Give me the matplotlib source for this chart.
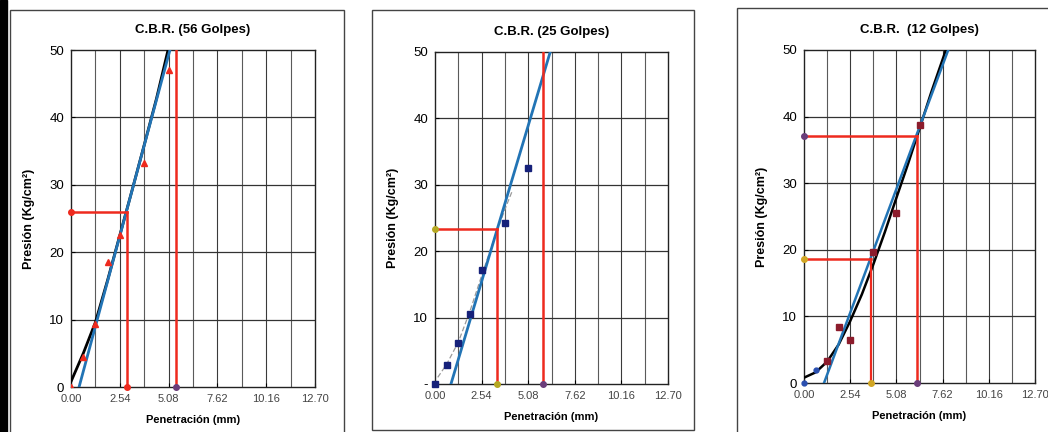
import numpy as np
import matplotlib.pyplot as plt
from matplotlib.patches import Rectangle

plt.rcParams['font.family'] = ['Liberation Sans', 'DejaVu Sans']

# penetration readings (mm)
pen = [0.00, 0.64, 1.27, 1.91, 2.54, 3.81, 5.08, 6.35]

# 56 golpes
p56 = [0.0, 4.4, 9.3, 18.5, 22.5, 33.3, 47.0]
fit56_x = [0.00, 0.64, 1.27, 1.91, 2.54, 3.18, 3.81, 4.45, 5.05]
fit56_y = [0.8, 5.0, 9.6, 15.9, 22.5, 29.2, 35.9, 42.8, 50.0]
tan56_x = [0.42, 5.15]
tan56_y = [0.0, 50.0]
cbr56_h = 26.0      # pressure read at corrected 2.54
cbr56_x1 = 2.90
cbr56_x2 = 5.45

# 25 golpes
p25 = [0.0, 2.8, 6.2, 10.5, 17.1, 24.2, 32.6]
fit25_x = [0.15, 0.64, 1.27, 1.91, 2.54, 3.18, 3.81, 4.20]
fit25_y = [1.0, 3.0, 6.3, 11.0, 16.3, 21.5, 26.3, 29.0]
tan25_x = [0.87, 6.28]
tan25_y = [0.0, 50.0]
cbr25_h = 23.3
cbr25_x1 = 3.38
cbr25_x2 = 5.91

# 12 golpes
p12 = [0.0, 1.9, 3.3, 8.4, 6.5, 19.6, 25.6, 38.7]
fit12_x = [0.00, 0.64, 1.27, 1.91, 2.54, 3.18, 3.81, 4.45, 5.08, 5.72, 6.35, 6.99, 7.80]
fit12_y = [0.8, 1.6, 3.2, 5.8, 9.3, 13.3, 17.8, 22.7, 27.8, 32.9, 38.2, 43.6, 50.0]
tan12_x = [1.10, 7.93]
tan12_y = [0.0, 50.0]
cbr12_h1 = 18.55
cbr12_x1 = 3.67
cbr12_h2 = 37.15
cbr12_x2 = 6.22

xticks = [0.00, 2.54, 5.08, 7.62, 10.16, 12.70]
xticklabels = ['0.00', '2.54', '5.08', '7.62', '10.16', '12.70']
yticks = [0, 10, 20, 30, 40, 50]

BLUE = '#2274b5'
RED = '#ee2a1e'
GRID = '#5a5a5a'

fig = plt.figure(figsize=(10.48, 4.32), dpi=100)
W, H = 1048, 432


def frame(x0, y0, x1, y1, lw=1.0, color='#444444'):
    fig.patches.append(Rectangle((x0 / W, 1 - y1 / H), (x1 - x0) / W, (y1 - y0) / H,
                                 transform=fig.transFigure, fill=False,
                                 edgecolor=color, linewidth=lw))


def make_ax(l, r, t, b, title, zero_dash=False):
    ax = fig.add_axes([l / W, 1 - b / H, (r - l) / W, (b - t) / H])
    ax.set_xlim(0, 12.70)
    ax.set_ylim(0, 50)
    for k in range(1, 10):
        ax.axvline(1.27 * k, color=GRID if k % 2 else '#3a3a3a', lw=0.8, zorder=0)
    for yv in [10, 20, 30, 40]:
        ax.axhline(yv, color='#333333', lw=0.9, zorder=0)
    ax.set_xticks(xticks)
    ax.set_xticklabels(xticklabels, fontsize=8, color='#444444')
    ax.set_yticks(yticks)
    if zero_dash:
        ax.set_yticklabels(['-'] + [str(v) for v in yticks[1:]], fontsize=9.5)
    else:
        ax.set_yticklabels([str(v) for v in yticks], fontsize=9.5)
    ax.tick_params(length=3, width=0.8, direction='in', pad=5)
    for s in ax.spines.values():
        s.set_color('#222222')
        s.set_linewidth(1.0)
    ax.set_title(title, fontsize=9.5, fontweight='bold', pad=12)
    ax.set_xlabel('Penetración (mm)', fontsize=8, fontweight='bold', labelpad=8)
    ax.set_ylabel('Presión (Kg/cm²)', fontsize=9, fontweight='bold', labelpad=10)
    return ax


# outer frames
fig.patches.append(Rectangle((0, 0), 7 / W, 1, transform=fig.transFigure,
                             color='black', zorder=5))
frame(10, 10, 344, 440)
frame(372, 10, 694, 430)
frame(737, 8, 1052, 440)

# panel 1
ax1 = make_ax(71, 315, 50, 387, 'C.B.R. (56 Golpes)')
ax1.plot(fit56_x, fit56_y, color='black', lw=2.0, zorder=3)
ax1.plot(tan56_x, tan56_y, color=BLUE, lw=2.0, zorder=4)
ax1.plot([0, cbr56_x1], [cbr56_h, cbr56_h], color=RED, lw=1.8, zorder=5)
ax1.plot([cbr56_x1, cbr56_x1], [0, cbr56_h], color=RED, lw=1.8, zorder=5)
ax1.plot([cbr56_x2, cbr56_x2], [0, 50], color=RED, lw=1.8, zorder=5)
ax1.plot(pen[:7], p56, ls='none', marker='^', ms=4, color=RED, zorder=6)
ax1.plot([0, cbr56_x1], [cbr56_h, 0], ls='none', marker='o', ms=4, color=RED, zorder=6, clip_on=False)
ax1.plot([cbr56_x2], [0], ls='none', marker='o', ms=4, color='#6a3d7a', zorder=6, clip_on=False)

# panel 2
ax2 = make_ax(435, 668, 52, 384, 'C.B.R. (25 Golpes)', zero_dash=True)
ax2.plot(fit25_x, fit25_y, color='#9a9a9a', lw=0.9, ls=(0, (4, 2)), zorder=3)
ax2.plot(tan25_x, tan25_y, color=BLUE, lw=2.0, zorder=4)
ax2.plot([0, cbr25_x1], [cbr25_h, cbr25_h], color=RED, lw=1.8, zorder=5)
ax2.plot([cbr25_x1, cbr25_x1], [0, cbr25_h], color=RED, lw=1.8, zorder=5)
ax2.plot([cbr25_x2, cbr25_x2], [0, 50], color=RED, lw=1.8, zorder=5)
ax2.plot(pen[:7], p25, ls='none', marker='s', ms=4.5, color='#16217a', zorder=6, clip_on=False)
ax2.plot([0, cbr25_x1], [cbr25_h, 0], ls='none', marker='o', ms=4, color='#b5a822', zorder=6, clip_on=False)
ax2.plot([cbr25_x2], [0], ls='none', marker='o', ms=4, color='#6a3d7a', zorder=6, clip_on=False)

# panel 3
ax3 = make_ax(804, 1035, 50, 383, 'C.B.R.  (12 Golpes)')
ax3.plot(fit12_x, fit12_y, color='black', lw=1.8, zorder=3)
ax3.plot(tan12_x, tan12_y, color=BLUE, lw=1.8, zorder=4)
ax3.plot([0, cbr12_x1], [cbr12_h1, cbr12_h1], color=RED, lw=1.8, zorder=5)
ax3.plot([cbr12_x1, cbr12_x1], [0, cbr12_h1], color=RED, lw=1.6, zorder=5)
ax3.plot([0, cbr12_x2], [cbr12_h2, cbr12_h2], color=RED, lw=1.8, zorder=5)
ax3.plot([cbr12_x2, cbr12_x2], [0, cbr12_h2], color=RED, lw=1.8, zorder=5)
ax3.plot(pen[2:], p12[2:], ls='none', marker='s', ms=4.5, color='#8c1c2c', zorder=6)
ax3.plot(pen[:2], p12[:2], ls='none', marker='o', ms=3.5, color='#2a4fb0', zorder=6, clip_on=False)
ax3.plot([0, cbr12_x1], [cbr12_h1, 0], ls='none', marker='o', ms=4, color='#d1a624', zorder=6, clip_on=False)
ax3.plot([0, cbr12_x2], [cbr12_h2, 0], ls='none', marker='o', ms=4, color='#6a3d7a', zorder=6, clip_on=False)

fig.savefig('out.png', dpi=100)
